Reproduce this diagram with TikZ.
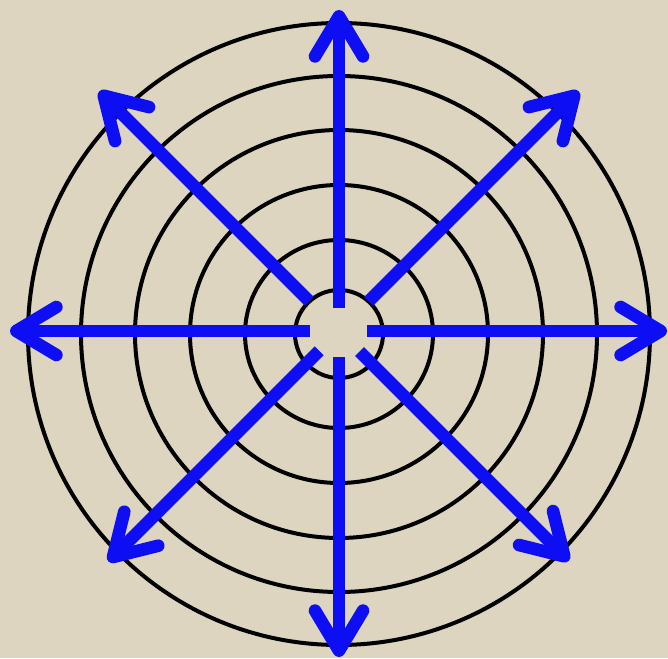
\documentclass[tikz,border=0pt]{standalone}
\usepackage{xcolor}
\usepackage{tikz}
\usetikzlibrary{arrows.meta,calc}
\definecolor{linen}{RGB}{221,213,192}
\definecolor{rayblue}{RGB}{14,14,245}
\tikzset{
  ring/.style={line width=3pt, draw=black},
  ray/.style={
    line width=9.5pt,
    draw=rayblue,
    -{Straight Barb[length=30pt, width=36pt, round]},
  },
}
\begin{document}
\begin{tikzpicture}[x=0.75pt, y=0.75pt]
  \fill[linen] (0,0) rectangle (668,658);
  \useasboundingbox (0,0) rectangle (668,658);

  \coordinate (ctr) at (339,324);
  \coordinate (hub) at (339,327);

  % rings
  \foreach \r in {44,94,149,204,258,311}
    \draw[ring] (ctr) circle (\r);

  % rays: angle / inner radius / outer radius
  \foreach \a/\s/\e in {0/28/328, 45/42/339, 90/23/321, 135/42/339,
                        180/29/329, 225/28/326, 270/26/326, 315/29/325} {
    \coordinate (s\a) at ($(hub)+(\a:\s)$);
    \coordinate (e\a) at ($(hub)+(\a:\e)$);
    \draw[ray] (s\a) -- (e\a);
  }
\end{tikzpicture}
\end{document}
